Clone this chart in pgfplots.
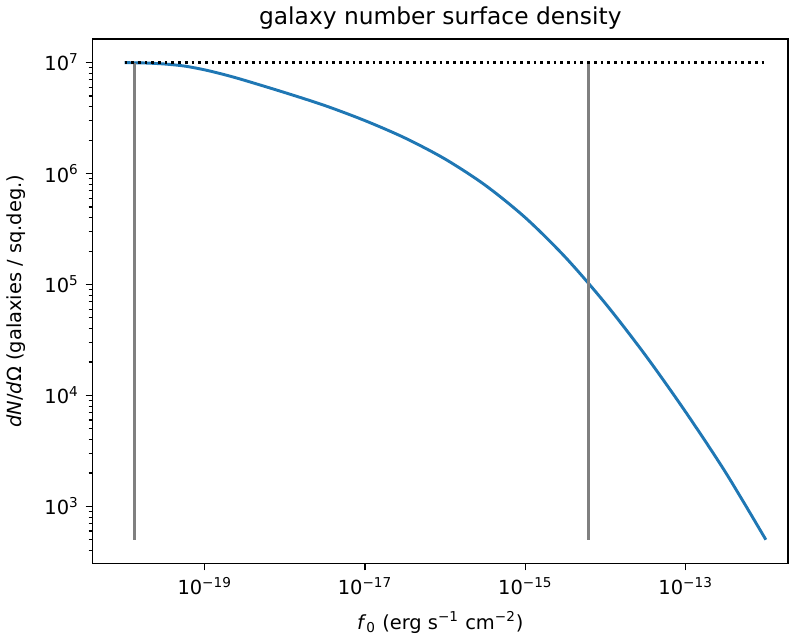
\documentclass[border=0pt]{standalone}
\usepackage{fontspec}
\setmainfont{DejaVu Sans}
\usepackage{pgfplots}
\pgfplotsset{compat=1.18}
\definecolor{mplblue}{HTML}{1F77B4}
\definecolor{mplgray}{HTML}{808080}

\begin{document}
\begin{tikzpicture}
\begin{axis}[
    scale only axis,
    width=358pt, height=270pt,
    xmode=log, ymode=log,
    xmin=3.98e-21, xmax=1.9e-12,
    ymin=305, ymax=1.64e7,
    axis line style={line width=0.8pt},
    tick align=outside,
    tick pos=left,
    major tick length=3.5pt,
    minor tick length=2pt,
    major tick style={black, line width=0.8pt},
    minor tick style={black, line width=0.6pt},
    xtick={1e-19,1e-17,1e-15,1e-13},
    xticklabels={10\textsuperscript{−19},10\textsuperscript{−17},10\textsuperscript{−15},10\textsuperscript{−13}},
    xminorticks=false,
    minor xtick={},
    ytick={1e3,1e4,1e5,1e6,1e7},
    yticklabels={10\textsuperscript{3},10\textsuperscript{4},10\textsuperscript{5},10\textsuperscript{6},10\textsuperscript{7}},
    minor ytick={400,500,600,700,800,900,
        2000,3000,4000,5000,6000,7000,8000,9000,
        20000,30000,40000,50000,60000,70000,80000,90000,
        2e5,3e5,4e5,5e5,6e5,7e5,8e5,9e5,
        2e6,3e6,4e6,5e6,6e6,7e6,8e6,9e6},
    xlabel={\textit{f}\textsubscript{0} (erg s\textsuperscript{−1} cm\textsuperscript{−2})},
    ylabel={\textit{dN}/\textit{d}Ω (galaxies / sq.deg.)},
    ylabel style={yshift=3pt},
    xlabel style={yshift=-2pt},
    title={galaxy number surface density},
    title style={font=\fontsize{12}{14}\selectfont, yshift=-4.5pt},
]
% number density curve
\addplot[mplblue, line width=1.5pt, smooth] coordinates {
    (1.000e-20, 1.00e7)
    (1.778e-20, 9.93e6)
    (3.162e-20, 9.72e6)
    (5.623e-20, 9.31e6)
    (1.000e-19, 8.61e6)
    (1.778e-19, 7.78e6)
    (3.162e-19, 6.92e6)
    (1.000e-18, 5.37e6)
    (3.162e-18, 4.10e6)
    (1.000e-17, 3.00e6)
    (3.162e-17, 2.09e6)
    (1.000e-16, 1.35e6)
    (3.162e-16, 7.85e5)
    (1.000e-15, 4.00e5)
    (3.162e-15, 1.758e5)
    (1.000e-14, 6.72e4)
    (3.162e-14, 2.29e4)
    (1.000e-13, 7.08e3)
    (3.162e-13, 2.01e3)
    (1.000e-12, 500)
};
% flux limits
\addplot[mplgray, line width=1.5pt] coordinates {(1.33e-20, 500) (1.33e-20, 1e7)};
\addplot[mplgray, line width=1.5pt] coordinates {(6.1e-15, 500) (6.1e-15, 1e7)};
% total
\addplot[black, line width=1.5pt, dash pattern=on 1.4pt off 2.05pt] coordinates {(1e-20, 1e7) (1e-12, 1e7)};
\end{axis}
\end{tikzpicture}
\end{document}
